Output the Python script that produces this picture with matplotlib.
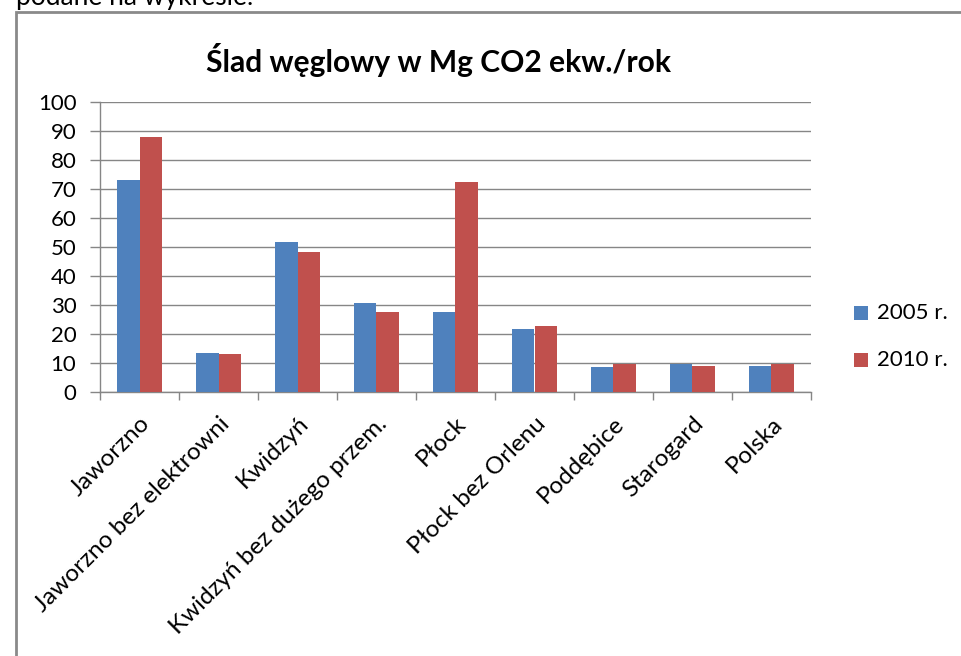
import matplotlib
matplotlib.use("Agg")
import matplotlib.pyplot as plt
import numpy as np
from matplotlib.patches import Rectangle

plt.rcParams['font.family'] = ['Lato', 'DejaVu Sans']

categories = ["Jaworzno", "Jaworzno bez elektrowni", "Kwidzyń", "Kwidzyń bez dużego przem.",
              "Płock", "Płock bez Orlenu", "Poddębice", "Starogard", "Polska"]
values_2005 = [73.2, 13.5, 51.6, 30.8, 27.7, 21.6, 8.7, 9.7, 9.1]
values_2010 = [87.9, 13.0, 48.4, 27.7, 72.4, 22.8, 9.7, 9.1, 9.7]
series_labels = ["2005 r.", "2010 r."]
yticks = list(range(0, 101, 10))

W, H = 962, 656
fig = plt.figure(figsize=(W / 100, H / 100), dpi=100)
fig.patch.set_facecolor('white')

def fx(px):
    return px / W

def fy(py):
    return 1 - py / H

# outer frame (only left/top visible)
fig.patches.append(Rectangle((fx(16), fy(700)), fx(1000), fy(12) - fy(700),
                             transform=fig.transFigure, fill=False,
                             edgecolor='#8a8a8a', linewidth=2))
# cropped text above the frame
fig.text(fx(16), fy(5.5), "podane na wykresie.", fontsize=19, color='black',
         ha='left', va='baseline')

ax = fig.add_axes([fx(100), fy(392), fx(811) - fx(100), fy(102) - fy(392)])

x = np.arange(len(categories))
bw = 1 / 3.5
ax.bar(x - bw / 2, values_2005, width=bw, color='#4f81bd', label=series_labels[0], zorder=3)
ax.bar(x + bw / 2, values_2010, width=bw, color='#c0504d', label=series_labels[1], zorder=3)

ax.set_xlim(-0.5, len(categories) - 0.5)
ax.set_ylim(0, 100)
ax.set_yticks(yticks)
ax.set_yticklabels([str(v) for v in yticks], fontsize=16)
ax.yaxis.grid(True, color='#868686', linewidth=1, zorder=0)
ax.set_axisbelow(True)

ax.set_xticks(np.arange(len(categories) + 1) - 0.5)
ax.set_xticklabels([])
ax.set_xticks(x, minor=True)
ax.set_xticklabels(categories, minor=True, rotation=45, ha='right', va='top',
                   rotation_mode='anchor', fontsize=17.5)
ax.tick_params(axis='x', which='minor', length=0, pad=15)
ax.tick_params(axis='x', which='major', length=6, color='#868686', width=1)
ax.tick_params(axis='y', length=7, color='#868686', width=1, pad=10)

for s in ['top', 'right']:
    ax.spines[s].set_visible(False)
for s in ['left', 'bottom']:
    ax.spines[s].set_color('#868686')
    ax.spines[s].set_linewidth(1)

fig.text(fx(438), fy(72), "Ślad węglowy w Mg CO2 ekw./rok", fontsize=21.6,
         fontweight='bold', ha='center', va='baseline')

# legend
for i, (lab, col) in enumerate(zip(series_labels, ['#4f81bd', '#c0504d'])):
    cy = 313 + i * 47
    fig.patches.append(Rectangle((fx(854), fy(cy + 7)), fx(14), fy(cy - 7) - fy(cy + 7),
                                 transform=fig.transFigure, facecolor=col, edgecolor='none'))
    fig.text(fx(877), fy(cy), lab, fontsize=16, ha='left', va='center')

fig.savefig("out.png", dpi=100)
